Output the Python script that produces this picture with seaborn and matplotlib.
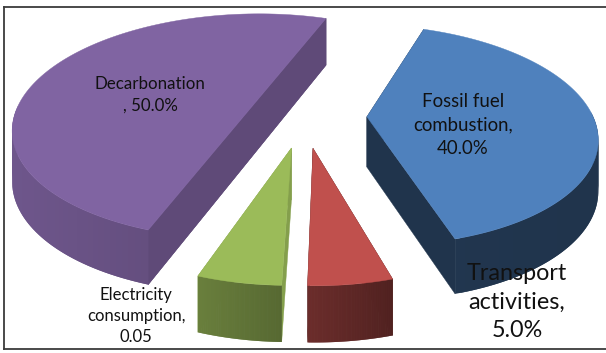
import numpy as np
import matplotlib
matplotlib.use("Agg")
import matplotlib.pyplot as plt
import seaborn as sns
from matplotlib.patches import Polygon

# Emission sources, clockwise from the first slice
categories = ["Fossil fuel\ncombustion,", "Transport\nactivities,", "Electricity\nconsumption,", "Decarbonation\n,"]
shares = [40.0, 5.0, 5.0, 50.0]
share_labels = ["40.0%", "5.0%", "0.05", "50.0%"]
explode = [0.278, 0.29, 0.29, 0.25]
radius_scale = [1.0, 0.97, 0.97, 1.05]

# Office-style slice colours and the shading of the wall around each slice
top_colours = ["#4F81BD", "#C0504D", "#9BBB59", "#8064A2"]
wall_shade = [(0.42, 0.40), (0.56, 0.42), (0.68, 0.56), (0.86, 0.68)]
edge_shade = [0.40, 0.40, 0.85, 0.74]

# Oblique view of the pie
START = 70.5
PX_X, PX_Y = 226.0, 107.0     # pixels per pie radius
CX, CY = 304.0, 116.0         # pie centre in image pixels
TILT = 0.165                  # perspective strength
DEPTH = 0.47                  # extrusion height in pie radii
W, H = 606, 353
BOX = (4.3, 606.0, 7.0, 349.0)

sns.set_theme(style="white")
plt.rcParams["font.family"] = ["Lato", "DejaVu Sans"]

fig = plt.figure(figsize=(W / 100, H / 100), dpi=100, facecolor="white")
ax = fig.add_axes([BOX[0] / W, 1 - BOX[3] / H, (BOX[1] - BOX[0]) / W, (BOX[3] - BOX[2]) / H])

wedges, _ = ax.pie(shares, explode=explode, startangle=START, counterclock=False, frame=True)


def project(x, y, z=0.0):
    """Map pie-plane coordinates to the tilted view; z is the drop below the top face."""
    x, y = np.asarray(x, float), np.asarray(y, float)
    w = 1 + TILT * y
    sy = y / w
    # the drop is linear in the projected height, so straight walls stay straight
    return x / w, sy - z * (1 - 0.08 * sy)


def shade(colour, f):
    return tuple(np.clip(np.array(sns.color_palette([colour])[0]) * f, 0, 1))


def face(xs, ys, colour, z, edge=0.3):
    ax.add_patch(Polygon(np.column_stack([xs, ys]), closed=True, facecolor=colour,
                         edgecolor=colour, linewidth=edge, zorder=z))


# Back-to-front order keeps the nearer slices on top
for order, idx in enumerate([3, 0, 2, 1]):
    wedge = wedges[idx]
    wedge.set_visible(False)
    cx, cy = wedge.center
    r = wedge.r * radius_scale[idx]
    theta = np.radians(np.linspace(wedge.theta1, wedge.theta2, 120))
    arc_x = cx + r * np.cos(theta)
    arc_y = cy + r * np.sin(theta)
    z0 = 10 + order * 10
    top = top_colours[idx]
    wall = shade(top, edge_shade[idx])

    # straight walls from the centre to each arc end
    for k in (0, -1):
        ex, ey = [cx, arc_x[k]], [cy, arc_y[k]]
        tx, ty = project(ex, ey)
        bx, by = project(ex, ey, DEPTH)
        face([tx[0], tx[1], bx[1], bx[0]], [ty[0], ty[1], by[1], by[0]], wall, z0)
    # a half slice has its two walls in line, so close the seam across the centre
    if abs((wedge.theta2 - wedge.theta1) - 180) < 1e-6:
        ex, ey = [arc_x[0], arc_x[-1]], [arc_y[0], arc_y[-1]]
        tx, ty = project(ex, ey)
        bx, by = project(ex, ey, DEPTH)
        face([tx[0], tx[1], bx[1], bx[0]], [ty[0], ty[1], by[1], by[0]], wall, z0)

    # curved wall on the near side only, built from narrow overlapping strips
    tx, ty = project(arc_x, arc_y)
    bx, by = project(arc_x, arc_y, DEPTH)
    for i in range(len(tx) - 1):
        if np.sin(theta[i]) > 0.02:
            continue
        j = min(i + 2, len(tx) - 1)
        t = (tx[i] - tx.min()) / max(np.ptp(tx), 1e-6)
        f = wall_shade[idx][0] + (wall_shade[idx][1] - wall_shade[idx][0]) * t
        face([tx[i], tx[j], bx[j], bx[i]], [ty[i], ty[j], by[j], by[i]],
             shade(top, f), z0 + 1, edge=0.0)

    # top face
    px, py = project(np.r_[cx, arc_x], np.r_[cy, arc_y])
    face(px, py, top, z0 + 2)

ax.set_aspect("auto")
ax.set_xlim((BOX[0] - CX) / PX_X, (BOX[1] - CX) / PX_X)
ax.set_ylim((CY - BOX[3]) / PX_Y, (CY - BOX[2]) / PX_Y)
ax.set_xticks([])
ax.set_yticks([])
for name, spine in ax.spines.items():
    spine.set_visible(name != "right")
    spine.set_color("#3c3c3c")
    spine.set_linewidth(1.3)

# Slice labels, positioned in image pixels
label_x = [463, 517, 136, 150]
label_y = [125, 302, 316, 95]
label_size = [13.4, 16.8, 12.0, 12.2]
label_spacing = [1.45, 1.44, 1.36, 1.4]
for name, text, x, y, size, spacing in zip(categories, share_labels, label_x, label_y,
                                           label_size, label_spacing):
    body = name + " " + text if name.endswith("\n,") else name + "\n" + text
    fig.text(x / W, 1 - y / H, body, ha="center", va="center", fontsize=size,
             color="#111111", linespacing=spacing, zorder=1000)

fig.savefig("out.png", dpi=100)
